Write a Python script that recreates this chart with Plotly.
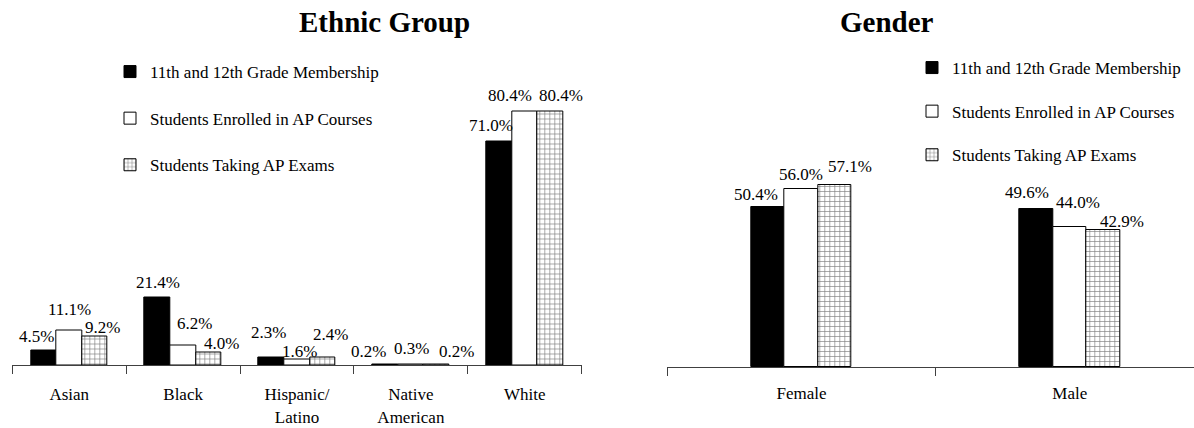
import plotly.graph_objects as go

# ---------------- data ----------------
ethnic_categories = ["Asian", "Black", "Hispanic/<br>Latino", "Native<br>American", "White"]
gender_categories = ["Female", "Male"]
series_names = ["11th and 12th Grade Membership",
                "Students Enrolled in AP Courses",
                "Students Taking AP Exams"]
ethnic_membership = [4.5, 21.4, 2.3, 0.2, 71.0]
ethnic_enrolled = [11.1, 6.2, 1.6, 0.3, 80.4]
ethnic_exams = [9.2, 4.0, 2.4, 0.2, 80.4]
gender_membership = [50.4, 49.6]
gender_enrolled = [56.0, 44.0]
gender_exams = [57.1, 42.9]

# ---------------- style / layout constants ----------------
W, H = 1194, 428
FONT = "Liberation Serif, Times New Roman, serif"
AXIS_COLOR = "#404040"

# pixel geometry of the two plot areas
L_X0, L_X1, L_BASE, L_TOP, L_YMAX = 12.3, 581.7, 365.0, 81.5, 90
R_X0, R_X1, R_BASE, R_TOP, R_YMAX = 667.3, 1194.0, 367.3, 144.0, 70
R_CAT_PX = 268.35  # width of one category on right chart
L_CAT_PX = (L_X1 - L_X0) / len(ethnic_categories)
L_BAR_PX, R_BAR_PX = 25.6, 33.5

# label nudges (dx px, height of label center above bar top px), per series / category
L_NUDGE = [
    [(-7, 14), (0, 15), (-3, 25), (-17, 13), (-8, 16)],
    [(0, 21), (11, 21.5), (2, 8), (1, 16), (-15, 16.5)],
    [(7.5, 8.5), (12.5, 8.5), (8, 23), (20, 13), (11, 16.5)],
]
R_NUDGE = [
    [(-12, 12), (-9, 17)],
    [(0, 14), (8, 24)],
    [(15.5, 19), (19, 9)],
]

fills = [dict(color="black"),
         dict(color="white"),
         dict(color="white",
              pattern=dict(shape="+", fgcolor="black", bgcolor="white", size=5, solidity=0.25))]


def px_to_paper_x(px):
    return px / W


def px_to_paper_y(py):
    return (H - py) / H


fig = go.Figure()

left_vals = [ethnic_membership, ethnic_enrolled, ethnic_exams]
right_vals = [gender_membership, gender_enrolled, gender_exams]

lw = L_BAR_PX / L_CAT_PX
rw = R_BAR_PX / R_CAT_PX

for i, name in enumerate(series_names):
    fig.add_trace(go.Bar(
        x=ethnic_categories, y=left_vals[i], name=name,
        width=lw, offset=-1.5 * lw + i * lw,
        marker=dict(line=dict(color="black", width=1), **fills[i]),
        xaxis="x", yaxis="y", legend="legend", legendgroup=f"L{i}",
        hoverinfo="skip"))
for i, name in enumerate(series_names):
    fig.add_trace(go.Bar(
        x=gender_categories, y=right_vals[i], name=name,
        width=rw, offset=-1.5 * rw + i * rw,
        marker=dict(line=dict(color="black", width=1), **fills[i]),
        xaxis="x2", yaxis="y2", legend="legend2", legendgroup=f"R{i}",
        hoverinfo="skip"))

annotations = []
for i in range(3):
    for j, cat in enumerate(ethnic_categories):
        dx, dy = L_NUDGE[i][j]
        annotations.append(dict(
            x=cat, y=left_vals[i][j], xref="x", yref="y",
            text=f"{left_vals[i][j]:.1f}%", showarrow=False,
            xshift=(i - 1) * L_BAR_PX + dx, yshift=dy, yanchor="middle",
            font=dict(family=FONT, size=17, color="black")))
    for j, cat in enumerate(gender_categories):
        dx, dy = R_NUDGE[i][j]
        annotations.append(dict(
            x=cat, y=right_vals[i][j], xref="x2", yref="y2",
            text=f"{right_vals[i][j]:.1f}%", showarrow=False,
            xshift=(i - 1) * R_BAR_PX + dx, yshift=dy, yanchor="middle",
            font=dict(family=FONT, size=17, color="black")))

annotations.append(dict(
    text="<b>Ethnic Group</b>", x=px_to_paper_x((L_X0 + L_X1) / 2), y=px_to_paper_y(22),
    xref="paper", yref="paper", showarrow=False, yanchor="middle",
    font=dict(family=FONT, size=29, color="black")))
annotations.append(dict(
    text="<b>Gender</b>", x=px_to_paper_x(936), y=px_to_paper_y(22),
    xref="paper", yref="paper", showarrow=False, yanchor="middle",
    font=dict(family=FONT, size=29, color="black")))

xaxis_style = dict(showline=True, linecolor=AXIS_COLOR, linewidth=1,
                   ticks="outside", tickson="boundaries", ticklen=8,
                   tickcolor=AXIS_COLOR, tickwidth=1, showgrid=False,
                   zeroline=False, tickfont=dict(family=FONT, size=17, color="black"),
                   fixedrange=True)
yaxis_style = dict(visible=False, showgrid=False, zeroline=False, fixedrange=True)

legend_style = dict(font=dict(family=FONT, size=17, color="black"),
                    bgcolor="rgba(0,0,0,0)", borderwidth=0,
                    xanchor="left", yanchor="top",
                    itemclick=False, itemdoubleclick=False)

fig.update_layout(
    width=W, height=H,
    margin=dict(l=0, r=0, t=0, b=0),
    paper_bgcolor="white", plot_bgcolor="white",
    barmode="group", bargap=0, bargroupgap=0,
    showlegend=True,
    xaxis=dict(domain=[px_to_paper_x(L_X0), px_to_paper_x(L_X1)],
               anchor="y", range=[-0.5, len(ethnic_categories) - 0.5],
               ticklabelstandoff=14, **xaxis_style),
    yaxis=dict(domain=[px_to_paper_y(L_BASE), px_to_paper_y(L_TOP)],
               anchor="x", range=[0, L_YMAX], **yaxis_style),
    xaxis2=dict(domain=[px_to_paper_x(R_X0), px_to_paper_x(R_X1)],
                anchor="y2",
                range=[-0.5, -0.5 + (R_X1 - R_X0) / R_CAT_PX],
                ticklabelstandoff=10, **xaxis_style),
    yaxis2=dict(domain=[px_to_paper_y(R_BASE), px_to_paper_y(R_TOP)],
                anchor="x2", range=[0, R_YMAX], **yaxis_style),
    legend=dict(x=px_to_paper_x(110), y=px_to_paper_y(54), tracegroupgap=21.5, **legend_style),
    legend2=dict(x=px_to_paper_x(912), y=px_to_paper_y(50), tracegroupgap=18.5, **legend_style),
    annotations=annotations,
)

fig.write_html("out.html", config={"displayModeBar": False},
               post_script="document.body.style.margin='0';")
